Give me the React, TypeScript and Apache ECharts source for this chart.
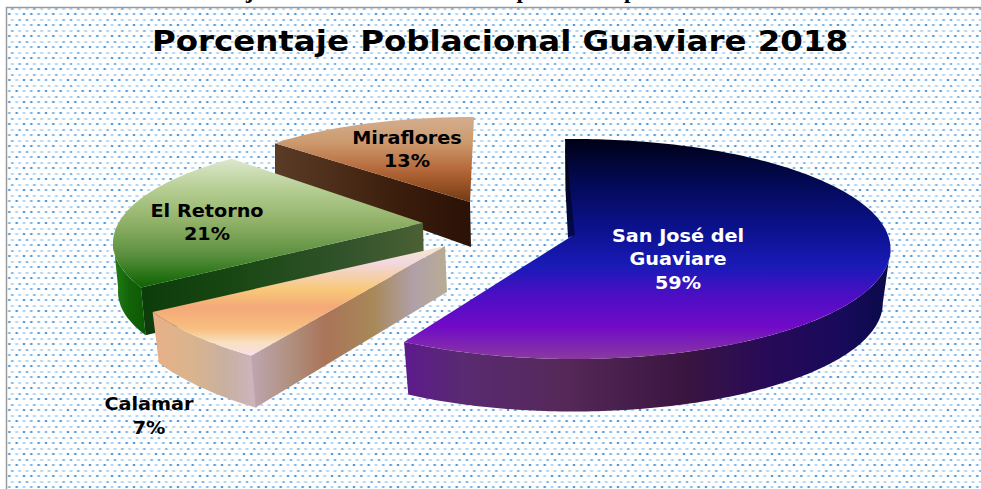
import React, { useEffect, useRef } from "react";
import * as echarts from "echarts";

const chartTitle = "Porcentaje Poblacional Guaviare 2018";
const captionAbove = "Gráfica 4 Porcentaje Poblacional en Guaviare por municipio";
// Draw order: back to front. Angles run clockwise back from the full circle.
const municipios = ["Miraflores", "El Retorno", "Calamar", "San José del\nGuaviare"];
const porcentajes = [13, 21, 7, 59];

type Ell = { cx: number; cy: number; rx: number; ry: number };
type Look = {
  rot: number;
  lead: number;
  top: Ell;
  bottom: Ell;
  apex: [number, number];
  apexLow: [number, number];
  wallFrom: number | null;
  wallTo: number | null;
  hasFace: boolean;
  topStops: [number, string][];
  wallStops: [number, string][];
  faceStops: [number, string][];
  label: { x: number; y: number; fill: string };
};

const looks: Look[] = [
  {
    rot: 0,
    lead: 0,
    top: { cx: 474, cy: 200, rx: 273, ry: 83 },
    bottom: { cx: 474, cy: 232, rx: 273, ry: 80 },
    apex: [470, 202],
    apexLow: [471, 247],
    wallFrom: null,
    wallTo: null,
    hasFace: true,
    topStops: [[0, "#d4ae90"], [0.3, "#cc9a6e"], [0.62, "#b5683a"], [0.85, "#8f4c20"], [1, "#6e3a16"]],
    wallStops: [[0, "#5a3a24"]],
    faceStops: [[0, "#5a3b26"], [0.3, "#4c2e1a"], [0.65, "#3a1c0c"], [1, "#2a1206"]],
    label: { x: 407, y: 149.5, fill: "#000" },
  },
  {
    rot: 8.1,
    lead: 0,
    top: { cx: 429, cy: 243, rx: 316, ry: 108 },
    bottom: { cx: 429, cy: 292, rx: 311, ry: 105 },
    apex: [423, 223],
    apexLow: [424, 268],
    wallFrom: 245.7,
    wallTo: 272,
    hasFace: true,
    topStops: [[0, "#dde8cc"], [0.25, "#b3cc90"], [0.5, "#8fb066"], [0.75, "#5a8f3e"], [0.93, "#1f7010"], [1, "#146008"]],
    wallStops: [[0, "#248018"], [0.5, "#136308"], [1, "#0c5806"]],
    faceStops: [[0, "#0c3c0a"], [0.35, "#1a4814"], [0.7, "#30522a"], [1, "#4b6035"]],
    label: { x: 207, y: 222.5, fill: "#000" },
  },
  {
    rot: 3.4,
    lead: 0,
    top: { cx: 450, cy: 247, rx: 340, ry: 134 },
    bottom: { cx: 451, cy: 296.5, rx: 334, ry: 137 },
    apex: [445, 246],
    apexLow: [447, 292],
    wallFrom: 215.6,
    wallTo: 241,
    hasFace: true,
    topStops: [[0, "#f5e8c8"], [0.15, "#f2d8e0"], [0.4, "#f8c878"], [0.56, "#f4a878"], [0.76, "#f8c080"], [0.88, "#f8e0c0"], [1, "#f8e0e8"]],
    wallStops: [[0, "#e8b088"], [0.4, "#d8b48e"], [0.7, "#c8b0a0"], [1, "#cdb5c0"]],
    faceStops: [[0, "#bfa6b0"], [0.2, "#b09080"], [0.38, "#aa7458"], [0.62, "#a88858"], [0.83, "#b0a0a8"], [1, "#b8ac94"]],
    label: { x: 149, y: 416, fill: "#000" },
  },
  {
    rot: 0,
    lead: 1.6,
    top: { cx: 573.8, cy: 249, rx: 316.7, ry: 110 },
    bottom: { cx: 573.8, cy: 303, rx: 309, ry: 108.5 },
    apex: [572, 236],
    apexLow: [572, 236],
    wallFrom: 90,
    wallTo: 212.4,
    hasFace: false,
    topStops: [[0, "#000015"], [0.2, "#030a55"], [0.42, "#0c1290"], [0.58, "#1a1ab8"], [0.72, "#4f0ec4"], [0.85, "#700ac8"], [1, "#8a3aa0"]],
    wallStops: [[0, "#5c1a8c"], [0.12, "#5a2a72"], [0.33, "#552858"], [0.58, "#3a1540"], [0.74, "#280a58"], [0.9, "#180a5a"], [1, "#0a0a4a"]],
    faceStops: [[0, "#000000"], [1, "#030a50"]],
    label: { x: 678, y: 259, fill: "#fff" },
  },
];

const rad = Math.PI / 180;
const onEll = (e: Ell, deg: number): [number, number] => [
  e.cx + e.rx * Math.sin(deg * rad),
  e.cy - e.ry * Math.cos(deg * rad),
];
const arc = (e: Ell, a: number, b: number) => {
  const out: [number, number][] = [];
  const n = Math.max(2, Math.ceil(Math.abs(b - a)));
  for (let i = 0; i <= n; i++) out.push(onEll(e, a + ((b - a) * i) / n));
  return out;
};
const grad = (stops: [number, string][], vertical: boolean) =>
  new echarts.graphic.LinearGradient(
    0,
    0,
    vertical ? 0 : 1,
    vertical ? 1 : 0,
    stops.map(([offset, color]) => ({ offset, color }))
  );

function makeTile() {
  const c = document.createElement("canvas");
  c.width = 44;
  c.height = 22;
  const g = c.getContext("2d")!;
  g.fillStyle = "#ffffff";
  g.fillRect(0, 0, 44, 22);
  const strong = "#4f9ade";
  const mid = "#7db6e8";
  const pale = "#b4d6f2";
  const halo = "#dcecf9";
  const dot = (x: number, y: number, col: string) => {
    g.fillStyle = halo;
    g.fillRect(x - 1, y, 4, 2);
    g.fillStyle = col;
    g.fillRect(x, y, 2, 2);
  };
  const rows: [number, number, string[]][] = [
    [2, 1, [strong, mid, strong, pale, mid, strong]],
    [8, 4, [pale, mid, pale, pale, mid, pale]],
    [13, 1, [mid, strong, pale, strong, strong, mid]],
    [19, 4, [pale, pale, mid, mid, pale, pale]],
  ];
  for (const [y, ox, cols] of rows) {
    cols.forEach((col, i) => dot(ox + (i * 44) / 6, y, col));
  }
  return c;
}

export default function App() {
  const ref = useRef<HTMLDivElement>(null);
  useEffect(() => {
    document.body.style.margin = "0";
    document.body.style.background = "#fff";
    const chart = echarts.init(ref.current!, null, { renderer: "svg" });
    const total = porcentajes.reduce((a, b) => a + b, 0);
    const renderItem = (params: any, api: any) => {
      const i = params.dataIndex;
      const look = looks[i];
      const before = porcentajes.slice(0, i).reduce((a, b) => a + b, 0);
      const value = api.value(1) as number;
      const end = 360 - (before / total) * 360 + look.rot;
      const start = end - (value / total) * 360;
      const children: any[] = [];
      if (look.wallFrom !== null && look.wallTo !== null) {
        const pts = [
          ...arc(look.top, look.wallFrom, look.wallTo),
          ...arc(look.bottom, look.wallTo, look.wallFrom),
        ];
        children.push({
          type: "polygon",
          shape: { points: pts },
          style: { fill: grad(look.wallStops, false) },
        });
      }
      if (look.hasFace) {
        children.push({
          type: "polygon",
          shape: { points: [onEll(look.top, start), look.apex, look.apexLow, onEll(look.bottom, start)] },
          style: { fill: grad(look.faceStops, false) },
        });
      }
      const rimFrom = look.hasFace ? start - look.lead : -look.lead;
      const rimTo = look.hasFace ? end : end - 360 + (value / total) * 360;
      children.push({
        type: "polygon",
        shape: {
          points: look.hasFace
            ? [look.apex, ...arc(look.top, rimFrom, rimTo)]
            : [look.apex, ...arc(look.top, -look.lead, (value / total) * 360)],
        },
        style: { fill: grad(look.topStops, true) },
      });
      if (!look.hasFace) {
        // The thin sliver of the hidden cut on the largest slice
        const rim = onEll(look.top, -look.lead);
        children.push({
          type: "polygon",
          shape: {
            points: [
              rim,
              [look.apex[0] + 3, look.apex[1] - 1],
              [look.apex[0] - 4, look.apex[1] + 2],
              [rim[0] + 0.5, rim[1] + 50],
            ],
          },
          style: { fill: grad(look.faceStops, true) },
        });
      }
      children.push({
        type: "text",
        x: look.label.x,
        y: look.label.y,
        scaleX: 1.1,
        style: {
          text: `${municipios[i]}\n${value}%`,
          x: 0,
          y: 0,
          fill: look.label.fill,
          align: "center",
          verticalAlign: "middle",
          lineHeight: 23.5,
          font: "bold 17.5px 'DejaVu Sans'",
        },
      });
      return { type: "group", children };
    };
    chart.setOption({
      animation: false,
      graphic: [
        {
          type: "rect",
          z: 0,
          shape: { x: 6.5, y: 7.5, width: 980, height: 490 },
          style: {
            fill: { image: makeTile(), repeat: "repeat", imageWidth: 44, imageHeight: 22 },
            stroke: "#9a9a9a",
            lineWidth: 1.5,
          },
        },
        {
          type: "text",
          z: 1,
          style: {
            text: captionAbove,
            x: 60,
            y: 1.5,
            fill: "#000",
            align: "left",
            verticalAlign: "bottom",
            font: "bold 23px 'Liberation Serif'",
          },
        },
        {
          type: "text",
          z: 1,
          x: 500,
          y: 41,
          scaleX: 1.12,
          style: {
            text: chartTitle,
            x: 0,
            y: 0,
            fill: "#000",
            align: "center",
            verticalAlign: "middle",
            font: "bold 29px 'DejaVu Sans'",
          },
        },
      ],
      series: [
        {
          type: "custom",
          coordinateSystem: "none",
          silent: true,
          data: municipios.map((m, i) => [m, porcentajes[i]]),
          renderItem,
        },
      ],
    });
    return () => chart.dispose();
  }, []);
  return <div ref={ref} style={{ width: 981, height: 489 }} />;
}
